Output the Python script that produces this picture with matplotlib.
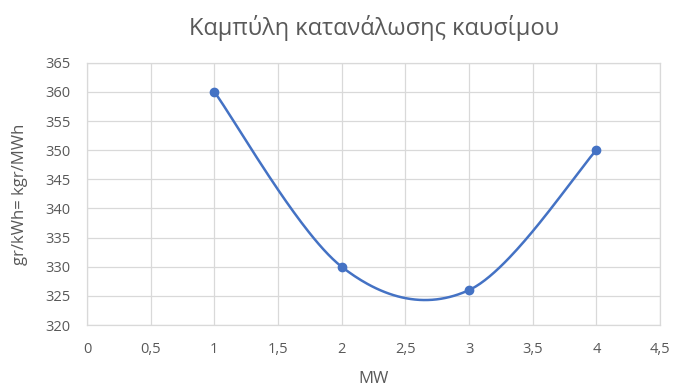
import numpy as np
import matplotlib.pyplot as plt
from matplotlib.ticker import FuncFormatter, MultipleLocator

mw = [1, 2, 3, 4]
consumption = [360, 330, 326, 350]

title = 'Καμπύλη κατανάλωσης καυσίμου'
xlabel = 'MW'
ylabel = 'gr/kWh= kgr/MWh'

line_color = '#4472C4'
text_color = '#595959'
grid_color = '#D9D9D9'

plt.rcParams['font.family'] = ['Open Sans', 'DejaVu Sans']


def smooth(xs, ys, n=60):
    # Excel-like smoothed line: cubic Bezier through points (Catmull-Rom, tension 1/6)
    pts = np.column_stack([xs, ys]).astype(float)
    out = []
    for i in range(len(pts) - 1):
        p0 = pts[max(i - 1, 0)]
        p1 = pts[i]
        p2 = pts[i + 1]
        p3 = pts[min(i + 2, len(pts) - 1)]
        c1 = p1 + (p2 - p0) / 6
        c2 = p2 - (p3 - p1) / 6
        t = np.linspace(0, 1, n)[:, None]
        seg = (1 - t) ** 3 * p1 + 3 * (1 - t) ** 2 * t * c1 + 3 * (1 - t) * t ** 2 * c2 + t ** 3 * p2
        out.append(seg if i == 0 else seg[1:])
    seg = np.vstack(out)
    return seg[:, 0], seg[:, 1]


fig = plt.figure(figsize=(6.73, 3.87), dpi=100)
ax = fig.add_axes([0.1293, 0.160, 0.8514, 0.678])

sx, sy = smooth(mw, consumption)
ax.plot(sx, sy, color=line_color, linewidth=1.8, zorder=3, solid_capstyle='round')
ax.plot(mw, consumption, 'o', color=line_color, markersize=6, zorder=4)

ax.set_xlim(0, 4.5)
ax.set_ylim(320, 365)
ax.xaxis.set_major_locator(MultipleLocator(0.5))
ax.yaxis.set_major_locator(MultipleLocator(5))
ax.xaxis.set_major_formatter(FuncFormatter(lambda v, p: ('%g' % v).replace('.', ',')))
ax.grid(True, color=grid_color, linewidth=0.9, zorder=0)
for s in ax.spines.values():
    s.set_color(grid_color)
    s.set_linewidth(0.9)
ax.tick_params(length=0, colors=text_color, labelsize=10.5)
ax.tick_params(axis='x', pad=12)
ax.tick_params(axis='y', pad=12)

ax.set_title(title, fontsize=17, color=text_color, pad=20)
ax.set_xlabel(xlabel, fontsize=12, color=text_color, labelpad=10)
ax.set_ylabel(ylabel, fontsize=12, color=text_color, labelpad=12)

fig.savefig('out.png', dpi=100)
